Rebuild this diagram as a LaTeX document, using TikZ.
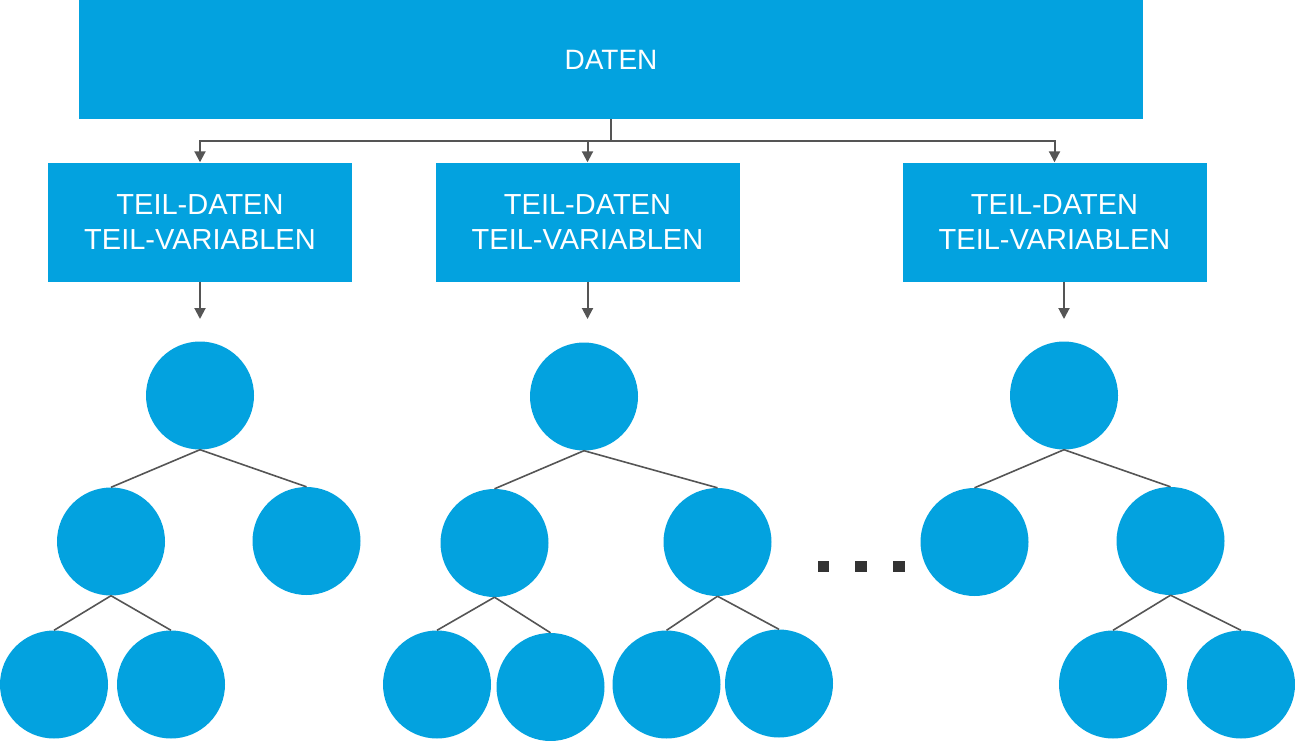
\documentclass[tikz,border=0pt]{standalone}
\usepackage{fontspec}
\setmainfont{Liberation Sans}
\usetikzlibrary{arrows.meta}
\definecolor{rfblue}{HTML}{03A2DF}
\definecolor{rfgray}{HTML}{555555}
\definecolor{rfdark}{HTML}{333333}
\tikzset{
  bigbox/.style={fill=rfblue, draw=none, minimum width=1064pt, minimum height=119pt, inner sep=0pt,
    text=white, font=\fontsize{28}{35.7}\selectfont},
  subbox/.style={fill=rfblue, draw=none, minimum width=304pt, minimum height=119pt, inner sep=0pt,
    text=white, align=center, font=\fontsize{29}{35.7}\selectfont},
  leaf/.style={circle, fill=rfblue, draw=none, minimum size=108pt, inner sep=0pt},
  arr/.style={draw=rfgray, line width=2pt, -{Triangle[length=11pt,width=11pt]}},
  edge/.style={draw=rfgray, line width=1.6pt},
  dotsq/.style={fill=rfdark}
}
\begin{document}
\begin{tikzpicture}[x=1pt,y=-1pt]
\useasboundingbox (0,0) rectangle (1295,741);

% top box
\node[bigbox] (daten) at (611,59.5) {DATEN};

% sub boxes
\node[subbox] (b1) at (200,222) {TEIL-DATEN\\TEIL-VARIABLEN};
\node[subbox] (b2) at (587.5,222) {TEIL-DATEN\\TEIL-VARIABLEN};
\node[subbox] (b3) at (1054.5,222) {TEIL-DATEN\\TEIL-VARIABLEN};

% connectors from DATEN
\coordinate (j) at (611,141);
\draw[draw=rfgray, line width=2pt] (daten.south) -- (j);
\draw[arr] (j) -| (b1.north);
\draw[arr] (j) -| (b2.north);
\draw[arr] (j) -| (b3.north);

% arrows to trees
\coordinate (t1) at (200,319);
\coordinate (t2) at (587.5,319);
\coordinate (t3) at (1064,319);
\draw[arr] (b1.south) -- (t1);
\draw[arr] (b2.south) -- (t2);
\draw[arr] (b3.south -| t3) -- (t3);

% tree 1
\node[leaf] (r1) at (200,395.5) {};
\node[leaf] (r1a) at (111,541.5) {};
\node[leaf] (r1b) at (306.5,541) {};
\node[leaf] (r1aa) at (54,684.5) {};
\node[leaf] (r1ab) at (171,684.5) {};
\draw[edge] (r1.south) -- (r1a.north);
\draw[edge] (r1.south) -- (r1b.north);
\draw[edge] (r1a.south) -- (r1aa.north);
\draw[edge] (r1a.south) -- (r1ab.north);

% tree 2
\node[leaf] (r2) at (584,396.5) {};
\node[leaf] (r2a) at (494.5,543) {};
\node[leaf] (r2b) at (717.5,542) {};
\node[leaf] (r2aa) at (437,684.5) {};
\node[leaf] (r2ab) at (550.5,687) {};
\node[leaf] (r2ba) at (666.5,684.5) {};
\node[leaf] (r2bb) at (779,683.5) {};
\draw[edge] (r2.south) -- (r2a.north);
\draw[edge] (r2.south) -- (r2b.north);
\draw[edge] (r2a.south) -- (r2aa.north);
\draw[edge] (r2a.south) -- (r2ab.north);
\draw[edge] (r2b.south) -- (r2ba.north);
\draw[edge] (r2b.south) -- (r2bb.north);

% tree 3
\node[leaf] (r3) at (1064,395.5) {};
\node[leaf] (r3a) at (974.5,542) {};
\node[leaf] (r3b) at (1170.5,541) {};
\node[leaf] (r3ba) at (1113,684.5) {};
\node[leaf] (r3bb) at (1241,684.5) {};
\draw[edge] (r3.south) -- (r3a.north);
\draw[edge] (r3.south) -- (r3b.north);
\draw[edge] (r3b.south) -- (r3ba.north);
\draw[edge] (r3b.south) -- (r3bb.north);

% ellipsis dots
\fill[dotsq] (817.5,560.5) rectangle (829,572);
\fill[dotsq] (855,560.5) rectangle (866.5,572);
\fill[dotsq] (893,560.5) rectangle (904.5,572);
\end{tikzpicture}
\end{document}
